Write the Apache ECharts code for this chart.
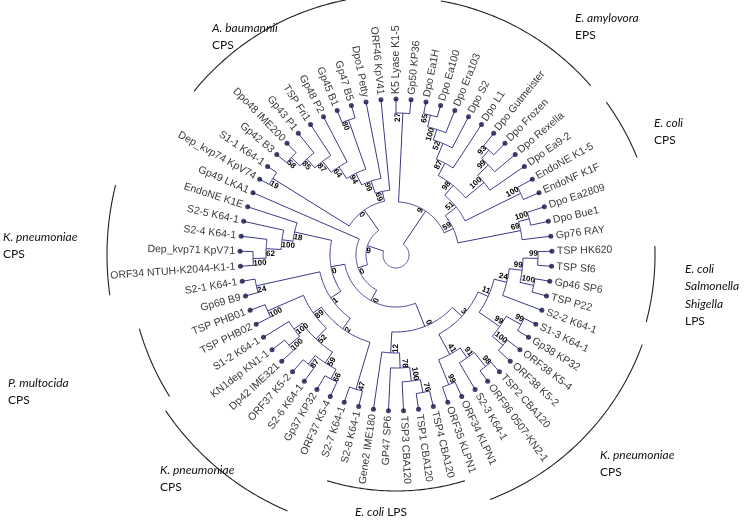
<!DOCTYPE html>
<html><head><meta charset="utf-8">
<script src="https://cdn.jsdelivr.net/npm/echarts@6/dist/echarts.min.js"></script>
<style>html,body{margin:0;padding:0;background:#fff}#c{width:750px;height:524px}</style>
</head><body><div id="c"></div>
<script>
// ---- DATA ----
// leaf names, clockwise from the top
const leaves = ['K5 Lyase K1-5','Gp50 KP36','Dpo Ea1H','Dpo Ea100','Dpo Era103','Dpo S2','Dpo L1','Dpo Gutmeister','Dpo Frozen','Dpo Rexella','Dpo Ea9-2','EndoNE K1-5','EndoNF K1F','Dpo Ea2809','Dpo Bue1','Gp76 RAY','TSP HK620','TSP Sf6','Gp46 SP6','TSP P22','S2-2 K64-1','S1-3 K64-1','Gp38 KP32','ORF38 K5-4','ORF38 K5-2','TSP2 CBA120','ORF96 0507-KN2-1','S2-3 K64-1','ORF34 KLPN1','ORF35 KLPN1','TSP4 CBA120','TSP1 CBA120','TSP3 CBA120','GP47 SP6','Gene2 IME180','S2-8 K64-1','S2-7 K64-1','ORF37 K5-4','Gp37 KP32','S2-6 K64-1','ORF37 K5-2','Dp42 IME321','KN1dep KN1-1','S1-2 K64-1','TSP PHB02','TSP PHB01','Gp69 B9','S2-1 K64-1','ORF34 NTUH-K2044-K1-1','Dep_kvp71 KpV71','S2-4 K64-1','S2-5 K64-1','EndoNE K1E','Gp49 LKA1','Dep_kvp74 KpV74','S1-1 K64-1','Gp42 B3','Dpo48 IME200','Gp43 P1','TSP Fri1','Gp48 P2','Gp45 B1','Gp47 B5','Dpo1 Petty','ORF46 KpV41'];
// internal node = [bootstrap, node depth (distance from centre), child, child]; leaf = index in leaves
const tree = [null, 13,
  [9, 53,
    [27, 142, 0, 1],
    [59, 63,
      [51, 77,
        [98, 90,
          [87, 104, [52, 121, [100, 132, [65, 144, 2, 3], 4], 5], 6],
          [100, 114, [99, 129, [93, 140, 7, 8], 9], 10]],
        [100, 139, 11, 12]],
      [69, 127, [100, 138, 13, 14], 15]]],
  [9, 30,
    [0, 40,
      [0, 52,
        [0, 77,
          [3, 90,
            [11, 101,
              [24, 114, [99, 127, [99, 142, 16, 17], [100, 141, 18, 19]], 20],
              [99, 126, [99, 143, 21, 22], [100, 140, 23, 24]]],
            [41, 113, [91, 125, [98, 143, 25, 26], 27], [99, 140, 28, 29]]],
          [12, 98, [78, 113, [100, 127, [76, 140, 30, 31], 32], 33], 34]],
        [0, 66,
          [1, 78,
            [2, 91,
              [47, 140, 35, 36],
              [89, 101,
                [52, 116,
                  [59, 129, [66, 140, 37, 38], [87, 140, 39, 40]],
                  [100, 126, [100, 140, 41, 42], 43]],
                [100, 140, 44, 45]]],
            [24, 143, 46, 47]],
          [18, 104, [100, 115, [62, 130, [100, 143, 48, 49], 50], 51], 52]]],
      53],
    [0, 55,
      [19, 145, 54, 55],
      [69, 65, [99, 78, [94, 91, [64, 105, [87, 119, [85, 131, [58, 143, 56, 57], 58], 59], 60], [80, 143, 61, 62]], 63], 64]]]
];
const leafDepth = 156;
// group annotations
const groupNames = [
  [{t:'A. baumannii', i:true}, {t:'CPS'}],
  [{t:'E. amylovora', i:true}, {t:'EPS'}],
  [{t:'E. coli', i:true}, {t:'CPS'}],
  [{t:'E. coli', i:true}, {t:'Salmonella', i:true}, {t:'Shigella', i:true}, {t:'LPS'}],
  [{t:'K. pneumoniae', i:true}, {t:'CPS'}],
  [{t:'E. coli LPS', mixed:true}],
  [{t:'K. pneumoniae', i:true}, {t:'CPS'}],
  [{t:'P. multocida', i:true}, {t:'CPS'}],
  [{t:'K. pneumoniae', i:true}, {t:'CPS'}]
];

// ---- LAYOUT / STYLE ----
const CX = 396, CY = 255;
const groupArcs = [ // [radius, startDeg, endDeg] clockwise from top
  [260, 309, 349], [258, 10, 49], [260, 54, 68], [259, 88, 105], [262, 110, 159],
  [236, 163, 197], [278, 203, 236], [267, 238, 254], [289, 262, 284]
];
const groupTextPos = [[212, 28], [575, 18], [654, 123], [685, 269], [600, 455], [355, 512], [160, 470], [8, 383], [3, 237]];
const LINE = '#3a3a88', DOT = '#101048', TXT = '#3a3a3a';
const NL = leaves.length, DEG = 360 / NL;

const arcs = [], radials = [], support = [];
function layout(node, parentR) {
  if (typeof node === 'number') { radials.push([parentR, leafDepth, node]); return node; }
  const [bs, r, c1, c2] = node;
  const a1 = layout(c1, r), a2 = layout(c2, r);
  const a = (a1 + a2) / 2;
  arcs.push([r, a1, a2]);
  if (parentR != null) radials.push([parentR, r, a]);
  if (bs != null) support.push([r, a, bs]);
  return a;
}
layout(tree, null);

function textRot(a) { // a in leaf units
  const phi = a * DEG; // clockwise from top
  let th = (90 - phi) * Math.PI / 180;
  const left = phi > 180 && phi < 360;
  if (left) th += Math.PI;
  return {rot: th, left};
}

const chart = echarts.init(document.getElementById('c'), null, {renderer: 'canvas'});
const graphics = [];
groupNames.forEach((g, k) => {
  const [x, y] = groupTextPos[k];
  g.forEach((ln, j) => {
    const st = {x: 0, y: 0, fill: '#111', font: (ln.i ? 'italic ' : '') + '12px Lato', verticalAlign: 'middle'};
    if (ln.mixed) { st.text = '{a|E. coli} LPS'; st.rich = {a: {fontStyle: 'italic', fontSize: 12, fontFamily: 'Lato', fill: '#111'}}; st.font = '12px Lato'; }
    else st.text = ln.t;
    graphics.push({type: 'text', x: x, y: y + j * 17.5, style: st, silent: true});
  });
});

chart.setOption({
  animation: false,
  polar: {center: [CX, CY], radius: 300},
  radiusAxis: {type: 'value', min: 0, max: 300, show: false},
  angleAxis: {type: 'value', min: 0, max: NL, startAngle: 90, clockwise: true, show: false},
  graphic: graphics,
  series: [
    {type: 'custom', coordinateSystem: 'polar', silent: true, data: arcs,
      renderItem(p, api) {
        const r = api.value(0), a1 = api.value(1), a2 = api.value(2);
        const n = Math.max(2, Math.ceil(Math.abs(a2 - a1) * 6));
        const pts = [];
        for (let k = 0; k <= n; k++) pts.push(api.coord([r, a1 + (a2 - a1) * k / n]));
        return {type: 'polyline', shape: {points: pts}, style: {stroke: LINE, lineWidth: 1, fill: 'none'}};
      }},
    {type: 'custom', coordinateSystem: 'polar', silent: true, data: radials,
      renderItem(p, api) {
        const a = api.value(2);
        const p1 = api.coord([api.value(0), a]), p2 = api.coord([api.value(1), a]);
        return {type: 'line', shape: {x1: p1[0], y1: p1[1], x2: p2[0], y2: p2[1]}, style: {stroke: LINE, lineWidth: 1}};
      }},
    {type: 'scatter', coordinateSystem: 'polar', silent: true, symbol: 'circle', symbolSize: 5,
      itemStyle: {color: DOT}, data: leaves.map((n, i) => [leafDepth, i]), z: 5},
    {type: 'custom', coordinateSystem: 'polar', silent: true, data: leaves.map((n, i) => [leafDepth + 5, i]),
      renderItem(p, api) {
        const a = api.value(1);
        const pt = api.coord([api.value(0), a]);
        const t = textRot(a);
        return {type: 'text', x: pt[0], y: pt[1], rotation: t.rot,
          style: {text: leaves[p.dataIndex], x: 0, y: 0, fill: TXT, font: '10.5px "Liberation Sans", Arial', align: t.left ? 'right' : 'left', verticalAlign: 'middle'}};
      }},
    {type: 'custom', coordinateSystem: 'polar', silent: true, data: support,
      renderItem(p, api) {
        const r = api.value(0);
        const a = api.value(1) - (5 / r) * 180 / Math.PI / DEG;
        const pt = api.coord([r, a]);
        const t = textRot(a);
        return {type: 'text', x: pt[0], y: pt[1], rotation: t.rot, z2: 10,
          style: {text: String(api.value(2)), x: 0, y: 0, fill: '#000', font: 'bold 8px "Liberation Sans", Arial', align: t.left ? 'left' : 'right', verticalAlign: 'middle'}};
      }},
    {type: 'custom', coordinateSystem: 'polar', silent: true, data: groupArcs.map(g => [g[0], g[1] / DEG, g[2] / DEG]),
      renderItem(p, api) {
        const r = api.value(0), a1 = api.value(1), a2 = api.value(2);
        const n = 60, pts = [];
        for (let k = 0; k <= n; k++) pts.push(api.coord([r, a1 + (a2 - a1) * k / n]));
        return {type: 'polyline', shape: {points: pts}, style: {stroke: '#222', lineWidth: 1.1, fill: 'none'}};
      }}
  ]
});
</script></body></html>
